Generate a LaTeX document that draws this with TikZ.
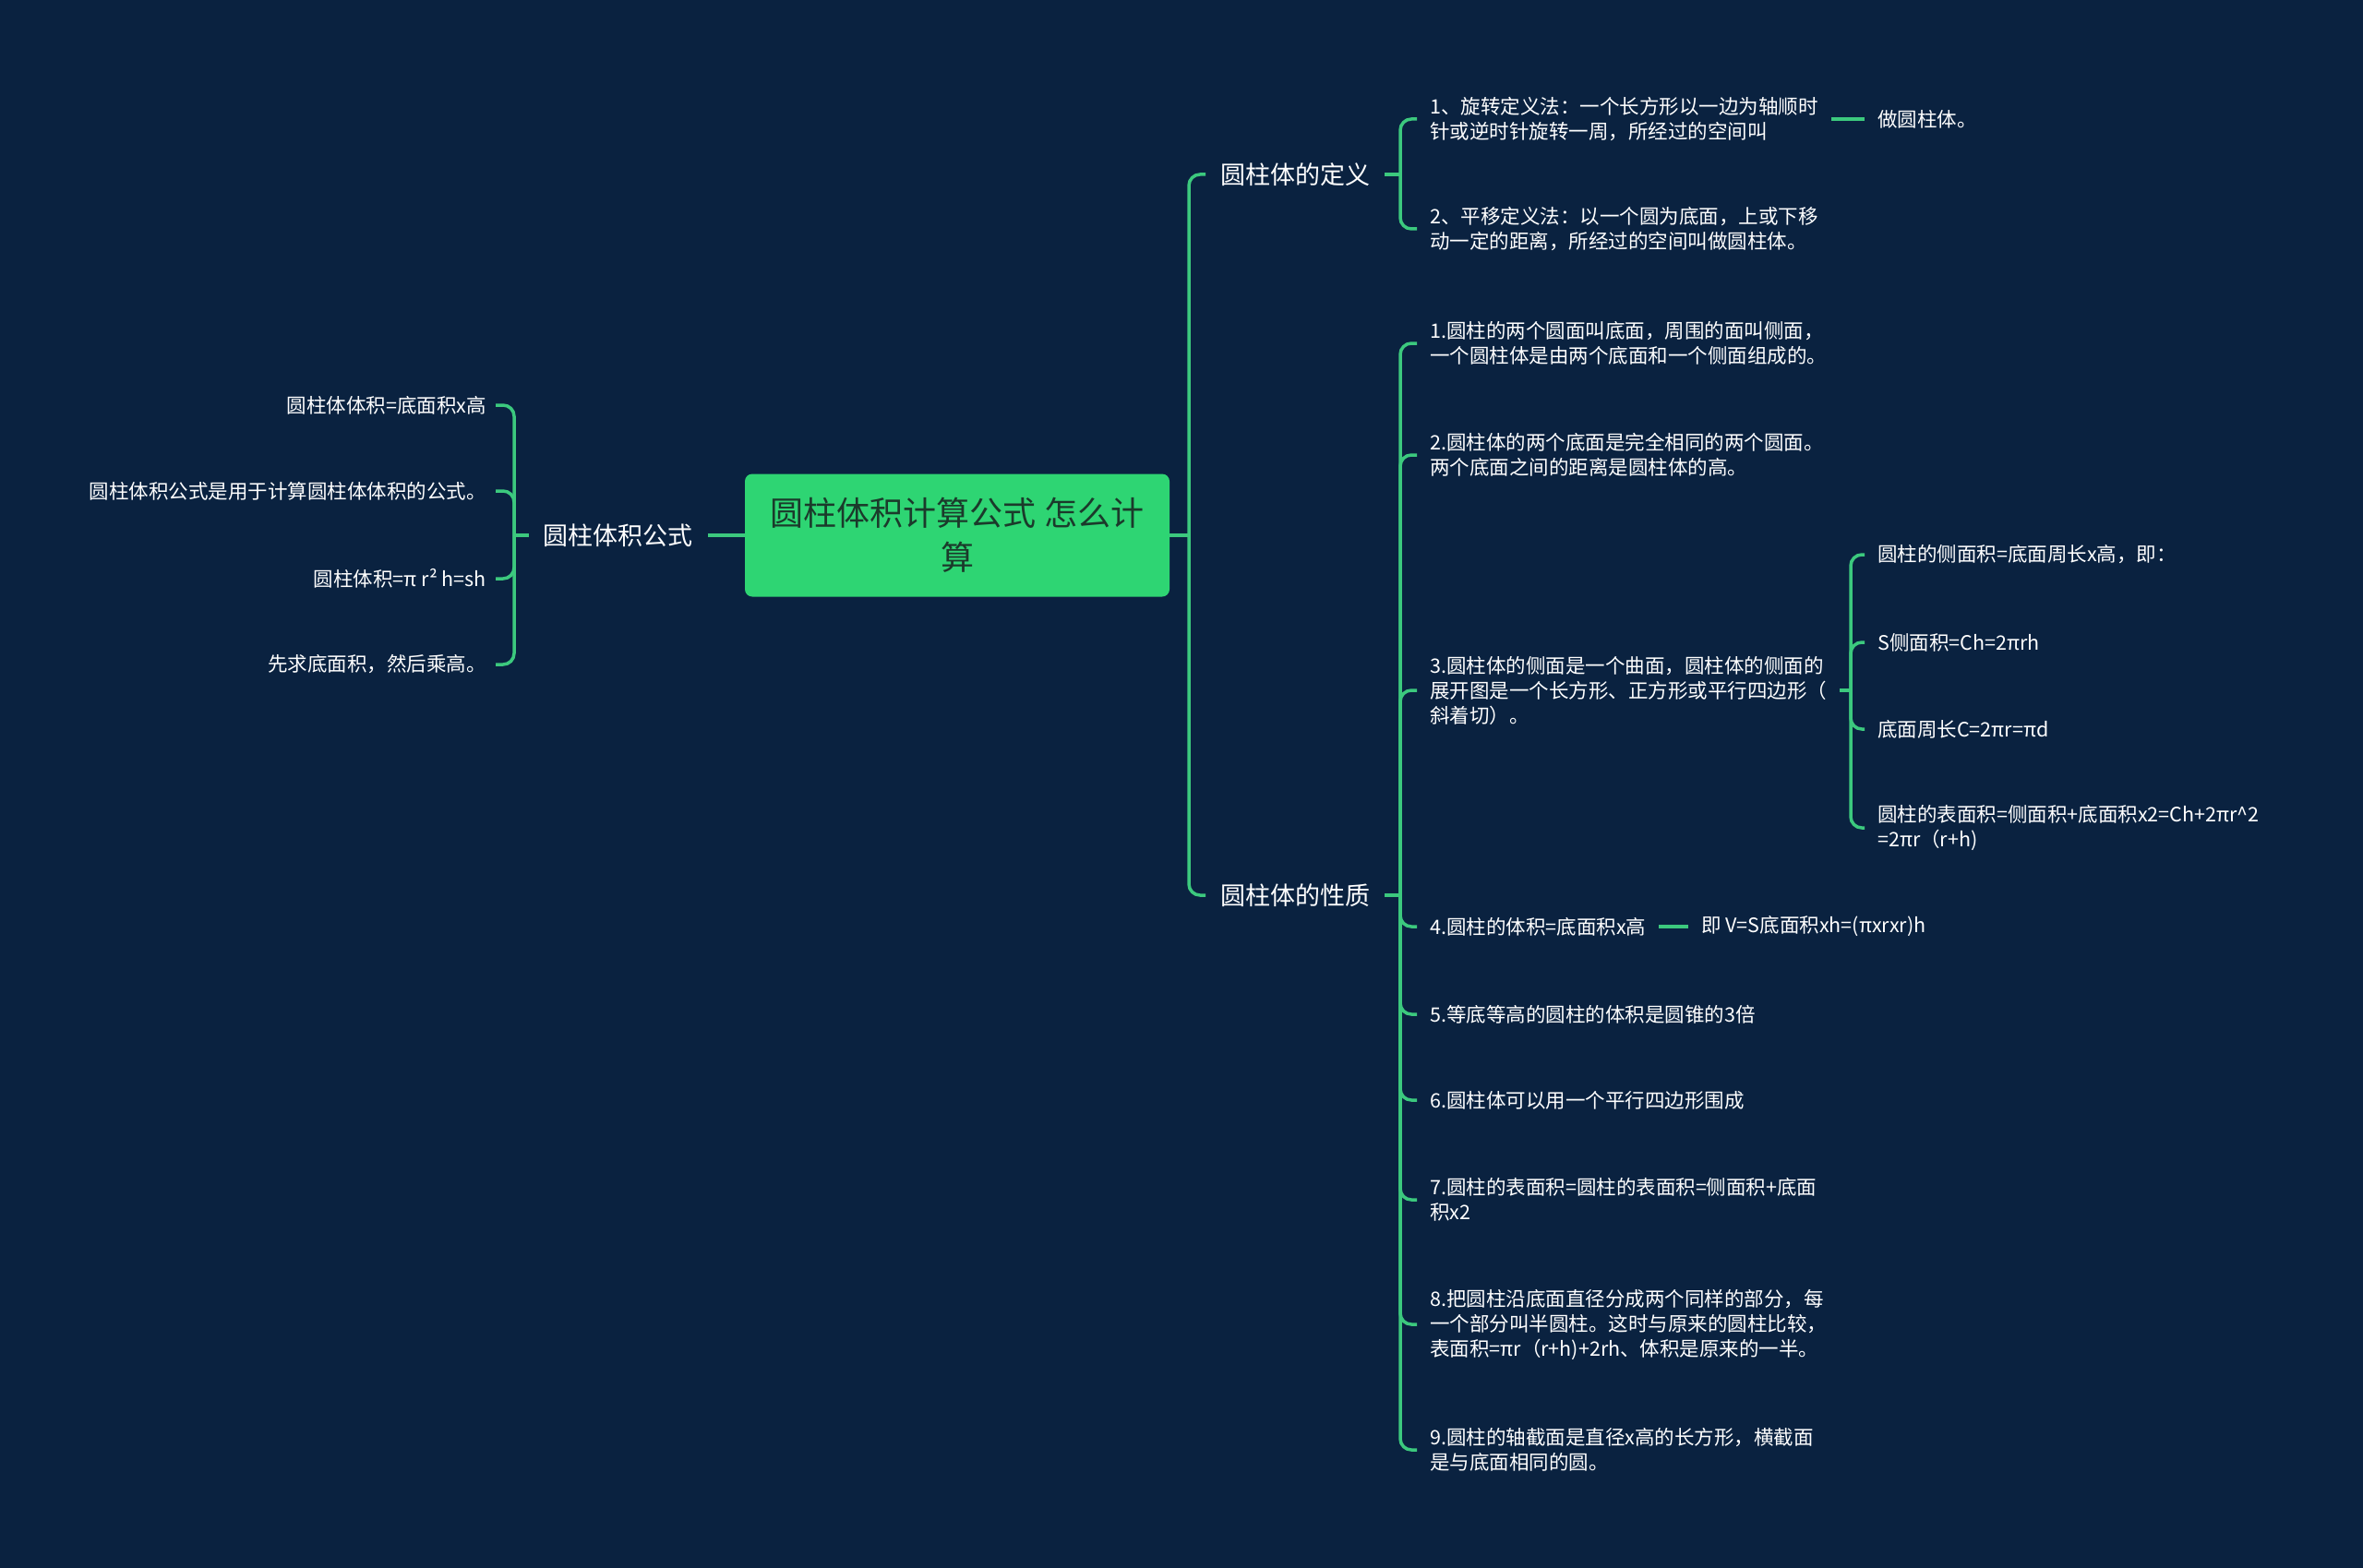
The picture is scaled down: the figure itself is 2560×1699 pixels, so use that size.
\documentclass[tikz,border=0pt]{standalone}
\usepackage{fontspec}
\setmainfont{Noto Sans CJK SC}
\definecolor{bgnavy}{HTML}{0A2240}
\definecolor{linegreen}{HTML}{3CC97E}
\definecolor{boxgreen}{HTML}{2ED573}
\definecolor{boxtext}{HTML}{1B3A2B}
\tikzset{
  link/.style={draw=linegreen,line width=3.5pt,rounded corners=12pt},
  rootbox/.style={fill=boxgreen,rounded corners=8pt,minimum width=460pt,minimum height=133pt,
    align=center,text=boxtext,font=\fontsize{36}{48}\selectfont},
  topic/.style={text=white,font=\fontsize{27}{33}\selectfont,inner xsep=16pt,inner ysep=0pt},
  leaf/.style={text=white,font=\fontsize{21.5}{27}\selectfont,align=left,inner xsep=14pt,inner ysep=0pt},
  lleaf/.style={leaf,align=right,inner xsep=10pt,anchor=east},
}
\begin{document}
\begin{tikzpicture}[x=1pt,y=-1pt]
\fill[bgnavy] (0,0) rectangle (2560,1699);
\useasboundingbox (0,0) rectangle (2560,1699);

\node[rootbox] (root) at (1037,580) {圆柱体积计算公式 怎么计\\算};

% first level
\node[topic,anchor=west] (def) at (1306,189) {圆柱体的定义};
\node[topic,anchor=west] (prop) at (1306,970) {圆柱体的性质};
\node[topic,anchor=east] (vol) at (767,580) {圆柱体积公式};

\coordinate (rtrunk) at (1288,580);
\draw[link] (root.east) -- (rtrunk);
\draw[link] (rtrunk) |- (def.west);
\draw[link] (rtrunk) |- (prop.west);
\draw[link] (root.west) -- (vol.east);

% definition
\node[leaf,anchor=west] (d1) at (1535,129) {1、旋转定义法：一个长方形以一边为轴顺时\\针或逆时针旋转一周，所经过的空间叫};
\node[leaf,anchor=west] (d2) at (1535,248) {2、平移定义法：以一个圆为底面，上或下移\\动一定的距离，所经过的空间叫做圆柱体。};
\node[leaf,anchor=west] (d1a) at (2020,129) {做圆柱体。};
\coordinate (dtrunk) at (1517,189);
\draw[link] (def.east) -- (dtrunk);
\foreach \n in {d1,d2}
  \draw[link] (dtrunk) |- (\n.west);
\draw[link] (d1.east) -- (d1a.west);

% properties
\node[leaf,anchor=west] (p1) at (1535,372) {1.圆柱的两个圆面叫底面，周围的面叫侧面，\\一个圆柱体是由两个底面和一个侧面组成的。};
\node[leaf,anchor=west] (p2) at (1535,493) {2.圆柱体的两个底面是完全相同的两个圆面。\\两个底面之间的距离是圆柱体的高。};
\node[leaf,anchor=west] (p3) at (1535,748) {3.圆柱体的侧面是一个曲面，圆柱体的侧面的\\展开图是一个长方形、正方形或平行四边形（\\斜着切）。};
\node[leaf,anchor=west] (p4) at (1535,1004) {4.圆柱的体积=底面积x高};
\node[leaf,anchor=west] (p5) at (1535,1099) {5.等底等高的圆柱的体积是圆锥的3倍};
\node[leaf,anchor=west] (p6) at (1535,1192) {6.圆柱体可以用一个平行四边形围成};
\node[leaf,anchor=west] (p7) at (1535,1300) {7.圆柱的表面积=圆柱的表面积=侧面积+底面\\积x2};
\node[leaf,anchor=west] (p8) at (1535,1435) {8.把圆柱沿底面直径分成两个同样的部分，每\\一个部分叫半圆柱。这时与原来的圆柱比较，\\表面积=πr（r+h)+2rh、体积是原来的一半。};
\node[leaf,anchor=west] (p9) at (1535,1571) {9.圆柱的轴截面是直径x高的长方形，横截面\\是与底面相同的圆。};
\coordinate (ptrunk) at (1517,970);
\draw[link] (prop.east) -- (ptrunk);
\foreach \n in {p1,p2,p3,p4,p5,p6,p7,p8,p9}
  \draw[link] (ptrunk) |- (\n.west);

% side surface
\node[leaf,anchor=west] (s1) at (2020,601) {圆柱的侧面积=底面周长x高，即：};
\node[leaf,anchor=west] (s2) at (2020,696) {S侧面积=Ch=2πrh};
\node[leaf,anchor=west] (s3) at (2020,790) {底面周长C=2πr=πd};
\node[leaf,anchor=west] (s4) at (2020,897) {圆柱的表面积=侧面积+底面积x2=Ch+2πr\^{}2\\=2πr（r+h)};
\coordinate (strunk) at (2005,748);
\draw[link] (p3.east) -- (strunk);
\foreach \n in {s1,s2,s3,s4}
  \draw[link] (strunk) |- (\n.west);

\node[leaf,anchor=west] (p4a) at (1829,1004) {即 V=S底面积xh=(πxrxr)h};
\draw[link] (p4.east) -- (p4a.west);

% volume formula
\node[lleaf] (v1) at (537,439) {圆柱体体积=底面积x高};
\node[lleaf] (v2) at (537,532) {圆柱体积公式是用于计算圆柱体体积的公式。};
\node[lleaf] (v3) at (537,627) {圆柱体积=π r² h=sh};
\node[lleaf] (v4) at (537,720) {先求底面积，然后乘高。};
\coordinate (vtrunk) at (557,580);
\draw[link] (vol.west) -- (vtrunk);
\foreach \n in {v1,v2,v3,v4}
  \draw[link] (vtrunk) |- (\n.east);
\end{tikzpicture}
\end{document}
